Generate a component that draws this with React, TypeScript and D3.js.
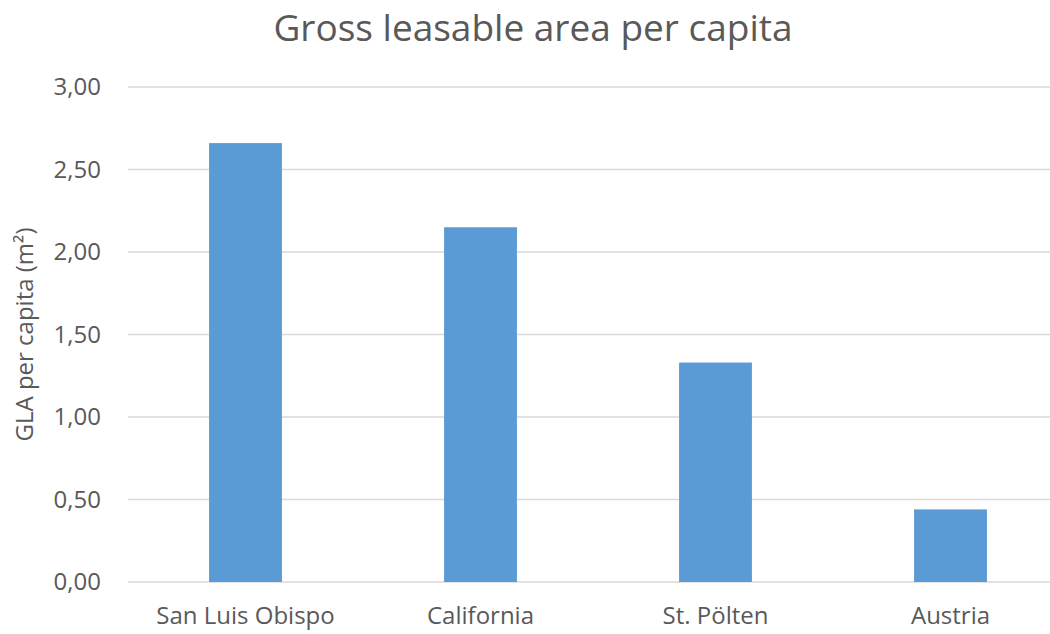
import React from "react";
import * as d3 from "d3";

const categories = ["San Luis Obispo", "California", "St. Pölten", "Austria"];
const values = [2.66, 2.15, 1.33, 0.44];
const yTicks = [0, 0.5, 1, 1.5, 2, 2.5, 3];
const title = "Gross leasable area per capita";
const yTitle = "GLA per capita (m²)";

const W = 1050;
const H = 634;
const FONT = "'Open Sans', 'Noto Sans', sans-serif";

export default function App() {
  const x = d3.scaleBand<string>().domain(categories).range([128, 1068]).paddingInner(0.69).paddingOuter(0.345);
  const y = d3.scaleLinear().domain([0, 3]).range([582, 87]);
  const fmt = (v: number) => d3.format(".2f")(v).replace(".", ",");
  return (
    <svg width={W} height={H} style={{ position: "absolute", left: 0, top: 0, background: "#fff" }}>
      <rect x={0} y={0} width={W} height={H} fill="#fff" />
      <text x={533} y={41} textAnchor="middle" fontFamily={FONT} fontSize={37} fill="#595959">{title}</text>
      {yTicks.map((t) => (
        <g key={t}>
          <line x1={128} x2={W} y1={y(t)} y2={y(t)} stroke="#d9d9d9" strokeWidth={1.5} />
          <text x={101} y={y(t)} dy="0.35em" textAnchor="end" fontFamily={FONT} fontSize={24} fill="#595959">{fmt(t)}</text>
        </g>
      ))}
      {categories.map((c, i) => (
        <rect key={c} x={x(c)} y={y(values[i])} width={x.bandwidth()} height={y(0) - y(values[i])} fill="#5b9bd5" />
      ))}
      {categories.map((c) => (
        <text key={c} x={(x(c) as number) + x.bandwidth() / 2} y={624} textAnchor="middle" fontFamily={FONT} fontSize={24} fill="#595959">{c}</text>
      ))}
      <text transform={`translate(33,${(y(0) + y(3)) / 2}) rotate(-90)`} textAnchor="middle" fontFamily={FONT} fontSize={24} fill="#595959">{yTitle}</text>
    </svg>
  );
}
